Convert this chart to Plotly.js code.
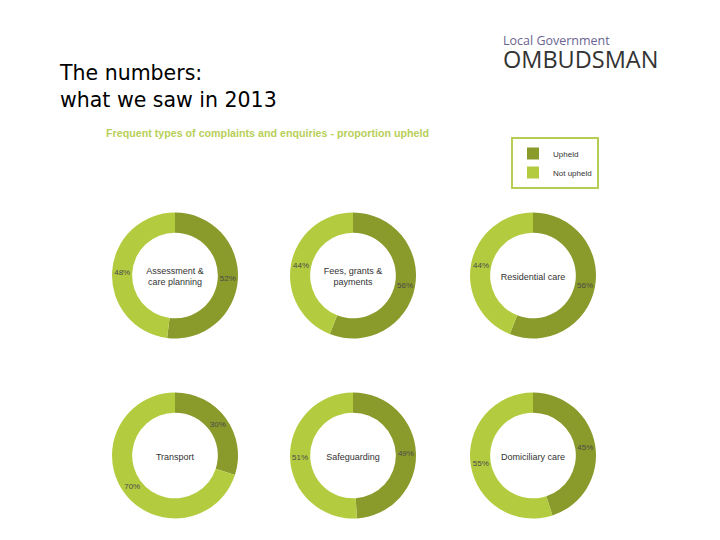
<!DOCTYPE html>
<html><head><meta charset="utf-8">
<script src="https://cdn.plot.ly/plotly-3.0.1.min.js"></script>
<style>html,body{margin:0;padding:0;background:#fff}#chart{width:720px;height:540px}</style>
</head><body><div id="chart"></div>
<script>
const categories = ["Assessment &<br>care planning", "Fees, grants &<br>payments", "Residential care", "Transport", "Safeguarding", "Domiciliary care"];
const sliceLabels = ["Upheld", "Not upheld"];
const upheld = [52, 56, 56, 30, 49, 45];
const notUpheld = [48, 44, 44, 70, 51, 55];

const colors = ["#8a9a2b", "#b3cc3f"];
// pixel centres of each donut on the 720x540 page
const centresX = [175, 353, 533];
const centresY = [275.5, 455.5];
const R = 63;

const traces = categories.map((cat, i) => {
  const cx = centresX[i % 3], cy = centresY[Math.floor(i / 3)];
  return {
    type: "pie",
    labels: sliceLabels,
    values: [upheld[i], notUpheld[i]],
    hole: 0.68,
    sort: false,
    direction: "clockwise",
    rotation: 0,
    marker: {colors: colors, line: {width: 0}},
    texttemplate: "%{value}%",
    textposition: "inside",
    insidetextorientation: "horizontal",
    textfont: {family: "Liberation Sans, Arial, sans-serif", size: 8, color: "#4a4a4a"},
    title: {text: cat, position: "middle center", font: {family: "Liberation Sans, Arial, sans-serif", size: 9, color: "#333"}},
    domain: {x: [(cx - R) / 720, (cx + R) / 720], y: [1 - (cy + R) / 540, 1 - (cy - R) / 540]},
    hoverinfo: "skip"
  };
});

const layout = {
  width: 720, height: 540,
  margin: {l: 0, r: 0, t: 0, b: 0},
  paper_bgcolor: "#fff",
  showlegend: true,
  legend: {
    x: 511 / 720, y: 1 - 137 / 540, xanchor: "left", yanchor: "top",
    bgcolor: "#fff", bordercolor: "#b5cc55", borderwidth: 2,
    font: {family: "Liberation Sans, Arial, sans-serif", size: 8, color: "#333"},
    traceorder: "normal", itemwidth: 30
  },
  annotations: [
    {text: "The numbers:<br>what we saw in 2013", x: 57 / 720, y: 1 - 59 / 540, xref: "paper", yref: "paper",
     xanchor: "left", yanchor: "top", align: "left", showarrow: false,
     font: {family: "DejaVu Sans, sans-serif", size: 20.5, color: "#000"}},
    {text: "Frequent types of complaints and enquiries - proportion upheld", x: 104 / 720, y: 1 - 133 / 540,
     xref: "paper", yref: "paper", xanchor: "left", yanchor: "middle", showarrow: false,
     font: {family: "Liberation Sans, Arial, sans-serif", size: 10.7, color: "#b8cf58", weight: "bold"}},
    {text: "<span style='font-size:12.5px;color:#6a6590'>Local Government</span><br><span style='font-size:23.5px;color:#333'>OMBUDSMAN</span>",
     x: 501 / 720, y: 1 - 30 / 540, xref: "paper", yref: "paper",
     xanchor: "left", yanchor: "top", align: "left", showarrow: false,
     font: {family: "Open Sans, sans-serif", size: 18, color: "#333"}}
  ]
};

Plotly.newPlot("chart", traces, layout, {staticPlot: true});
</script></body></html>
